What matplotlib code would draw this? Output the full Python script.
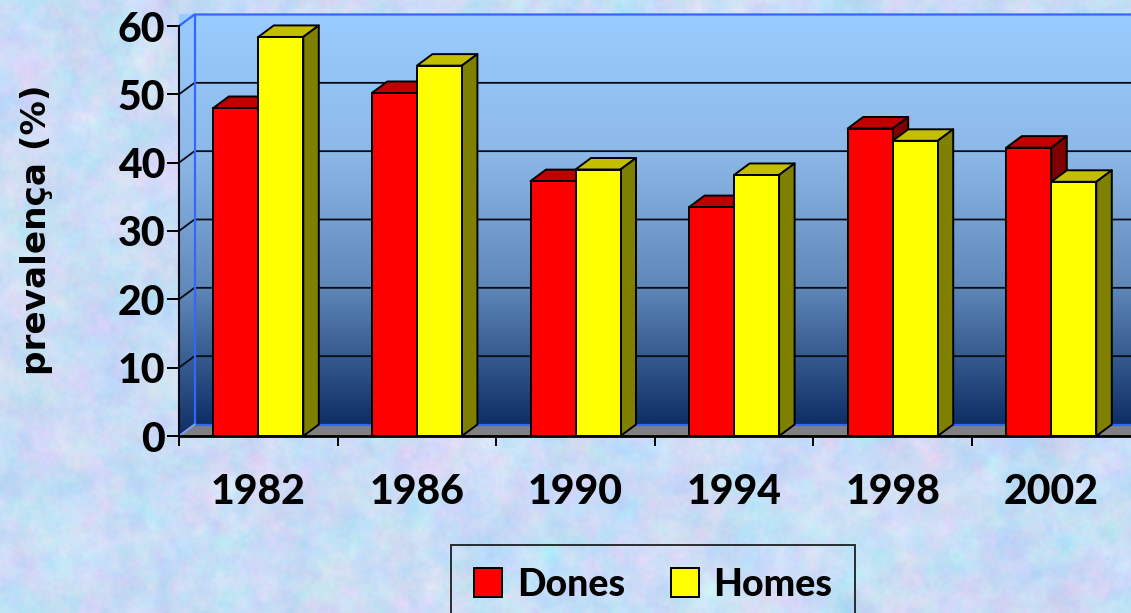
import numpy as np
import matplotlib
matplotlib.use("Agg")
import matplotlib.pyplot as plt
from matplotlib.colors import LinearSegmentedColormap
from matplotlib.patches import Polygon

years = ["1982", "1986", "1990", "1994", "1998", "2002"]
dones = [48.0, 50.2, 37.3, 33.5, 45.0, 42.2]
homes = [58.4, 54.2, 39.0, 38.2, 43.2, 37.2]
series_names = ["Dones", "Homes"]
y_ticks = [0, 10, 20, 30, 40, 50, 60]

W, H = 1131, 613
plt.rcParams["font.family"] = ["Lato", "DejaVu Sans"]
fig = plt.figure(figsize=(W / 100, H / 100), dpi=100)


def px_axes(x0, ytop, x1, ybot, **kw):
    return fig.add_axes([x0 / W, 1 - ybot / H, (x1 - x0) / W, (ybot - ytop) / H], **kw)


# Mottled paper background (decoration only)
bg = fig.add_axes([0, 0, 1, 1], zorder=-5)
bg.axis("off")
rng = np.random.default_rng(7)


def smooth(sigma):
    n = rng.standard_normal((H, W))
    fy = np.fft.fftfreq(H)[:, None]
    fx = np.fft.rfftfreq(W)[None, :]
    out = np.fft.irfft2(np.fft.rfft2(n) * np.exp(-2 * (np.pi * sigma) ** 2 * (fx**2 + fy**2)), s=(H, W))
    return out / out.std()


tex = np.zeros((H, W, 3))
base = (201, 221, 246)
amps = (9, 5, 3)
for c in range(3):
    tex[..., c] = base[c] + amps[c] * (0.6 * smooth(14) + 0.6 * smooth(5) + 0.35 * smooth(1.5))
bg.imshow(np.clip(tex, 0, 255).astype(np.uint8), aspect="auto")

# Plot area: front plane runs from x=179 px, y=436 (0) to y=26 (60)
ax = px_axes(179, 26, W, 436)
step = 158.6
xmax = (W - 179) / step
ymax = 60.0
ax.set_xlim(0, xmax)
ax.set_ylim(0, ymax)
ax.patch.set_alpha(0)
dx = 15.5 / step
dy = 11.5 / (410 / 60)
for s in ax.spines.values():
    s.set_visible(False)

cmap = LinearSegmentedColormap.from_list("wall", ["#99CCFF", "#8DB9E8", "#5F87B8", "#0E2F66"],)
grad = np.linspace(0, 1, 256)[:, None]
wall = ax.imshow(grad, cmap=cmap, extent=(dx, xmax + dx, dy, ymax + dy), aspect="auto", zorder=1, clip_on=True)
side = ax.imshow(grad, cmap=cmap, extent=(0, dx, 0, ymax + dy), aspect="auto", zorder=1, clip_on=False)
side_poly = Polygon([(0, 0), (dx, dy), (dx, ymax + dy), (0, ymax)], transform=ax.transData, fc="none", ec="none")
ax.add_patch(side_poly)
side.set_clip_path(side_poly)
wall.set_clip_on(False)
ax.set_xlim(0, xmax)
ax.set_ylim(0, ymax)

# Floor
ax.add_patch(Polygon([(0, 0), (dx, dy), (xmax + dx, dy), (xmax + dx, 0)], fc="#808080", ec="none", zorder=2, clip_on=False))

# Gridlines
for v in y_ticks[1:-1]:
    ax.plot([0, dx, xmax + dx], [v, v + dy, v + dy], color="#0a0a14", lw=1.3, zorder=3, clip_on=False, solid_joinstyle="miter")

# Wall edges
blue = "#3366FF"
ax.plot([0, dx, xmax + dx], [ymax, ymax + dy, ymax + dy], color=blue, lw=1.6, zorder=3, clip_on=False)
ax.plot([dx, dx], [dy, ymax + dy], color=blue, lw=1.6, zorder=3, clip_on=False)
ax.plot([dx, xmax + dx], [dy, dy], color=blue, lw=1.6, zorder=3, clip_on=False)
ax.plot([0, dx], [0, dy], color="#7FA0FF", lw=1.4, zorder=3, clip_on=False)

# Bars
bw = 45 / step
x_centers = np.arange(len(years)) + 0.5
edge = "black"
lw = 1.4


def bar3d(x0, value, front, top, sidec, z):
    x1 = x0 + bw
    ax.add_patch(Polygon([(x0, value), (x0 + dx, value + dy), (x1 + dx, value + dy), (x1, value)],
                         fc=top, ec=edge, lw=lw, zorder=z, joinstyle="round", clip_on=False))
    ax.add_patch(Polygon([(x1, 0), (x1 + dx, dy), (x1 + dx, value + dy), (x1, value)],
                         fc=sidec, ec=edge, lw=lw, zorder=z, joinstyle="round", clip_on=False))
    return ax.bar(x0, value, bw, align="edge", color=front, edgecolor=edge, linewidth=lw, zorder=z + 0.1, clip_on=False)


handles = []
for i, xc in enumerate(x_centers):
    r = bar3d(xc - bw, dones[i], "#FF0000", "#C00000", "#800000", 4 + 2 * i)
    y = bar3d(xc, homes[i], "#FFFF00", "#C4BE00", "#808000", 5 + 2 * i)
    if i == 0:
        handles = [r, y]

# Axis lines and ticks
ax.plot([0, 0], [0, ymax], color="#05051a", lw=1.5, zorder=30, clip_on=False)
ax.plot([0, xmax], [0, 0], color="black", lw=2, zorder=30, clip_on=False)
ax.set_yticks(y_ticks)
ax.set_yticklabels([str(v) for v in y_ticks], fontsize=29.5, fontweight="black")
ax.set_xticks(np.arange(0, 6))
ax.set_xticklabels([])
ax.tick_params(axis="y", length=9, width=1.4, pad=1)
ax.tick_params(axis="x", length=7, width=1.4)
for xc, lab in zip(x_centers, years):
    ax.annotate(lab, (xc, 0), xytext=(0, -56), textcoords="offset pixels",
                ha="center", va="center", fontsize=29.5, fontweight="black", color="black")
fig.text(37 / W, 1 - 230 / H, "prevalença (%)", rotation=90, ha="center", va="center",
         fontsize=24.7, fontweight="bold", family="DejaVu Sans", color="black")

# Legend (frame runs off the bottom of the picture)
leg = ax.legend(handles, series_names, ncol=2, loc="upper left",
                bbox_to_anchor=(451 / W, 1 - 545 / H), bbox_transform=fig.transFigure,
                fontsize=27, frameon=True, fancybox=False, framealpha=None, facecolor="none",
                edgecolor="black", handlelength=0.75, handleheight=0.8, handletextpad=0.4,
                columnspacing=1.22, borderpad=0.6, borderaxespad=0)
leg.get_frame().set_linewidth(1.4)
leg.set_zorder(40)
for t in leg.get_texts():
    t.set_fontweight("black")

fig.savefig("out.png", dpi=100)
